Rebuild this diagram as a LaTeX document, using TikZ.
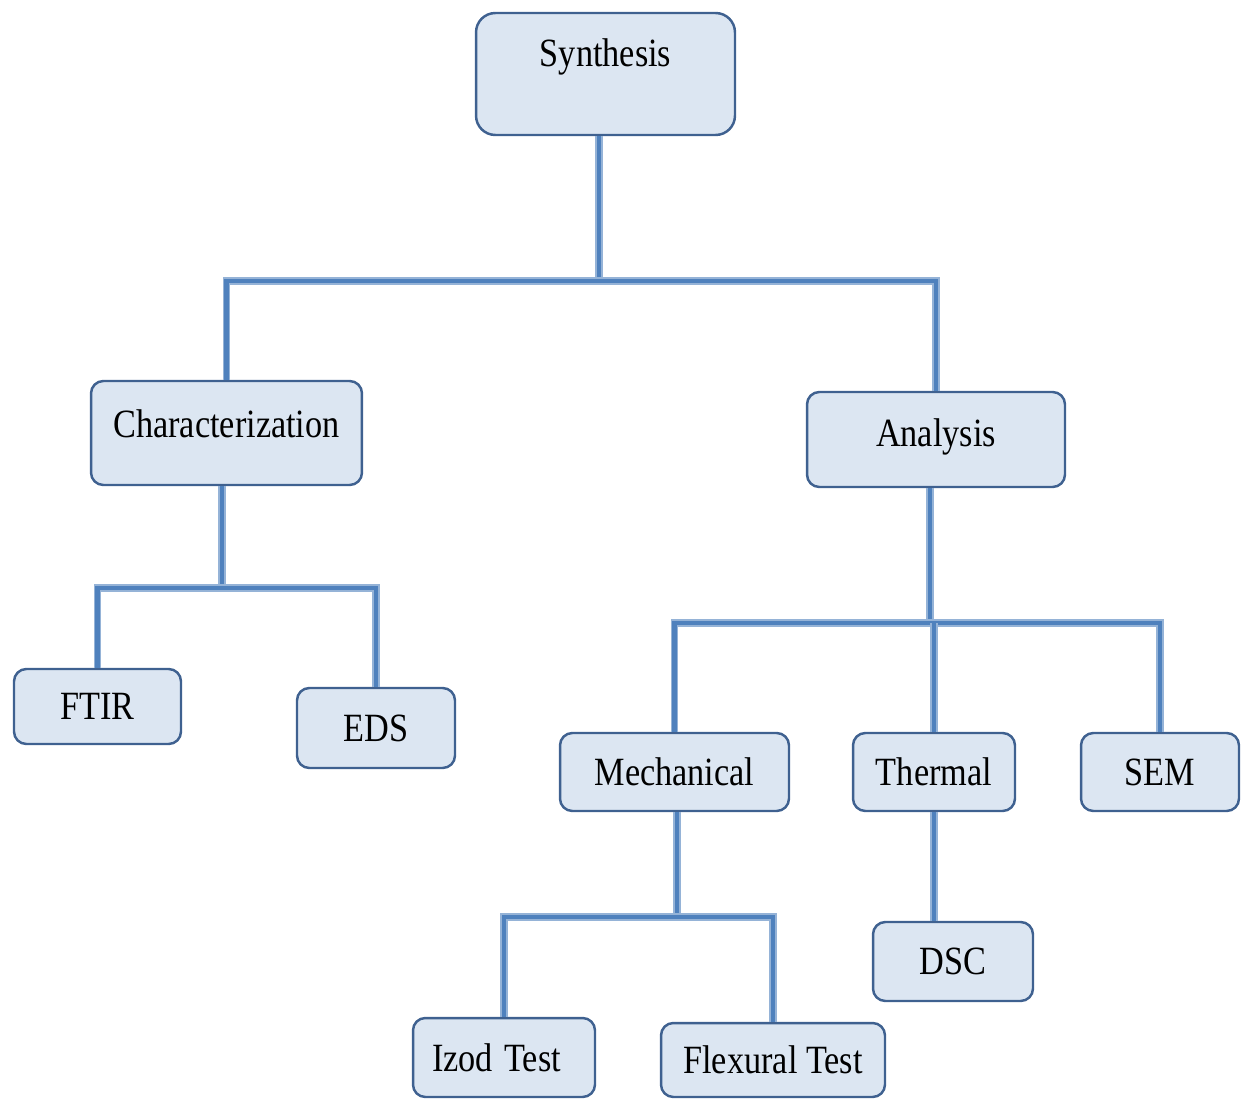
\documentclass[tikz,border=0pt]{standalone}
\usepackage{fontspec}
\setmainfont{Liberation Serif}
\definecolor{boxfill}{HTML}{DCE6F2}
\definecolor{boxline}{HTML}{3F6190}
\definecolor{linedark}{HTML}{4F81BD}
\definecolor{linelight}{HTML}{95B3D7}
\newcommand{\tall}[1]{\scalebox{1}[1.17]{#1}}
\tikzset{
  box/.style={draw=boxline, fill=boxfill, line width=1.4pt, rounded corners=7pt,
    inner sep=0pt, font=\fontsize{19.5}{23}\selectfont},
  link/.style={draw=linelight, double=linedark, double distance=2.4pt, line width=0.9pt}
}
\begin{document}
\begin{tikzpicture}[x=0.02cm, y=-0.02cm]
  \useasboundingbox (0,0) rectangle (1241,1099);
  % boxes
  \node[box, rounded corners=11pt, minimum width=5.18cm, text height=1.06cm, text depth=1.38cm] (syn) at (605.5,74) {\tall{Synthesis}};
  \node[box, minimum width=5.42cm, text height=1.12cm, text depth=0.96cm] (char) at (226.5,433) {\tall{Characterization}};
  \node[box, minimum width=5.16cm, text height=1.08cm, text depth=0.82cm] (ana) at (936,439.5) {\tall{Analysis}};
  \node[box, minimum width=3.34cm, minimum height=1.5cm] (ftir) at (97.5,706.5) {\tall{FTIR}};
  \node[box, minimum width=3.16cm, minimum height=1.6cm] (eds) at (376,728) {\tall{EDS}};
  \node[box, minimum width=4.58cm, minimum height=1.56cm] (mech) at (674.5,772) {\tall{Mechanical}};
  \node[box, minimum width=3.24cm, minimum height=1.56cm] (therm) at (934,772) {\tall{Thermal}};
  \node[box, minimum width=3.16cm, minimum height=1.56cm] (sem) at (1160,772) {\tall{SEM}};
  \node[box, minimum width=3.2cm, minimum height=1.58cm] (dsc) at (953,961.5) {\tall{DSC}};
  \node[box, minimum height=1.58cm, inner xsep=0.38cm, text width=2.88cm, align=left] (izod) at (504,1057.5) {\tall{Izod Test}};
  \node[box, minimum width=4.48cm, minimum height=1.48cm] (flex) at (773,1060) {\tall{Flexural Test}};
  % connectors
  \coordinate (synbus) at (599,281);
  \coordinate (charbus) at (222,588);
  \coordinate (anabus) at (930,623);
  \coordinate (mechbus) at (677,917);
  \draw[link] (syn.south -| synbus) -- (synbus);
  \draw[link] (char.north) |- (synbus) -| (ana.north);
  \draw[link] (char.south -| charbus) -- (charbus);
  \draw[link] (ftir.north) |- (charbus) -| (eds.north);
  \draw[link] (ana.south -| anabus) -- (anabus);
  \draw[link] (mech.north) |- (anabus) -| (sem.north);
  \draw[link] (therm.north |- anabus) -- (therm.north);
  \draw[link] (mech.south -| mechbus) -- (mechbus);
  \draw[link] (izod.north) |- (mechbus) -| (flex.north);
  \draw[link] (therm.south) -- (therm.south |- dsc.north);
\end{tikzpicture}
\end{document}
